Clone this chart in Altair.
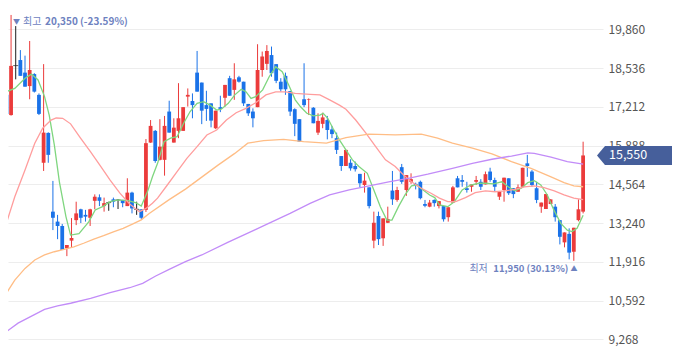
import altair as alt
import pandas as pd
import numpy as np

# ---------------- data ----------------
opens = [17620, 16930, 18620, 18810, 18380, 17920, 18330, 17620, 15300, 16320,
         13630, 13290, 13140, 12380, 12640, 13340, 13710, 13520, 13420, 14000,
         14120, 13820, 13940, 14050, 14030, 14030, 13820, 14280, 13710, 13710,
         13690, 15990, 16390, 15400, 15400, 17050, 15990, 16390, 16390, 17560,
         17410, 18380, 18040, 17270, 17330, 16480, 17200, 17520, 18190, 17790,
         18220, 18070, 17310, 17050, 17200, 18470, 18680, 18980, 18670, 18070,
         18270, 17750, 17130, 16790, 17470, 17450, 17180, 16330, 16630, 16760,
         16440, 16140, 15530, 15190, 15300, 15190, 14920, 14540, 14460, 12640,
         13480, 12720, 13250, 14350, 14030, 15150, 14370, 14650, 14580, 14650,
         13890, 13800, 14030, 13820, 13820, 13440, 13940, 14770, 14710, 14430,
         14480, 14650, 14650, 14560, 15000, 14710, 14140, 14370, 14770, 14430,
         14310, 14480, 15280, 15000, 14430, 13800, 13720, 13890, 13800, 13340,
         12580, 12870, 12260, 13340, 13630]
highs = [17650, 20350, 19970, 19150, 18960, 19460, 18360, 17670, 18670, 16340,
         14680, 13520, 13210, 12490, 13410, 13970, 13730, 13690, 13730, 14220,
         14220, 14110, 13970, 14110, 14060, 14030, 14770, 14310, 13970, 13710,
         16110, 16760, 16420, 16790, 16900, 17420, 16820, 18020, 17200, 17840,
         17670, 19120, 18040, 17760, 17330, 17080, 17590, 17960, 18270, 18700,
         18270, 18070, 17310, 17160, 19350, 19100, 19320, 19270, 18670, 18190,
         18380, 17750, 17160, 16790, 18700, 17500, 17200, 16990, 17010, 16900,
         16560, 16330, 15530, 15740, 15420, 15340, 14920, 14960, 14460, 13630,
         13630, 13400, 13800, 15020, 14480, 15260, 14880, 14940, 14620, 14690,
         14030, 14030, 14050, 13990, 13820, 13780, 14510, 14850, 14880, 14650,
         14560, 14850, 14740, 15000, 15130, 14790, 14310, 14790, 14770, 14430,
         14560, 15130, 15570, 15050, 14650, 13940, 14230, 14050, 13890, 13340,
         12920, 13060, 13080, 14050, 16020]
lows = [16670, 16910, 18150, 18270, 17900, 17470, 17700, 16930, 15020, 15300,
        13000, 12690, 12320, 12110, 12390, 13170, 13240, 13290, 13140, 13710,
        13820, 13630, 13660, 13780, 13720, 13780, 13820, 13570, 13520, 13370,
        13620, 15980, 15300, 15380, 14860, 16330, 15990, 16140, 16390, 17220,
        16820, 17730, 16620, 16730, 16510, 16450, 17030, 17220, 17590, 17450,
        18040, 17240, 16900, 16510, 17200, 18240, 18470, 18240, 18020, 17730,
        17620, 16900, 16210, 16020, 17200, 16930, 16650, 16250, 16480, 16100,
        16140, 15600, 15020, 15190, 15030, 15000, 14460, 14280, 13740, 12380,
        12490, 12460, 13240, 13860, 13970, 14580, 14170, 14580, 14390, 14050,
        13780, 13780, 13800, 13740, 13290, 13290, 13940, 14460, 14480, 14280,
        14310, 14540, 14370, 14560, 14650, 14310, 14030, 13970, 14200, 14090,
        14310, 14480, 14820, 14480, 13920, 13590, 13720, 13890, 13290, 12510,
        12410, 12000, 11950, 13300, 13570]
closes = [16970, 18610, 18620, 18270, 17900, 18470, 17730, 16970, 16330, 15570,
          13420, 13140, 12320, 12490, 12730, 13570, 13420, 13460, 13710, 14140,
          14000, 13920, 13940, 13970, 14030, 13920, 14280, 13740, 13710, 13420,
          15970, 16560, 15360, 15850, 16560, 16330, 16500, 16820, 17200, 17620,
          17270, 17730, 17080, 17140, 16740, 17080, 17140, 17960, 17590, 18150,
          18070, 17330, 16990, 16820, 18470, 18930, 19120, 18360, 18100, 17810,
          17810, 17050, 16630, 16020, 17270, 17470, 16650, 16730, 16850, 16420,
          16280, 15740, 15190, 15740, 15110, 15080, 14600, 14690, 13820, 13250,
          12690, 13400, 13380, 14050, 14370, 14650, 14880, 14740, 14510, 14090,
          13830, 13940, 13920, 13990, 13370, 13780, 14460, 14460, 14650, 14370,
          14560, 14710, 14480, 14910, 14710, 14480, 14310, 14790, 14260, 14230,
          14460, 15130, 15190, 14540, 14030, 13940, 14230, 14050, 13440, 12770,
          12920, 12230, 13080, 13710, 15550]

ma5_idx = [0, 1.8, 4.0, 5.4, 6.8, 8.2, 9.2, 10.3, 11.4, 12.8, 13.8, 15.6, 17.7, 19.1, 20.9,
           22.3, 24.0, 26.2, 27.9, 29.0, 30.4, 31.4, 32.5, 33.9, 35.3, 36.7, 38.1, 39.5, 41.0,
           42.4, 43.8, 45.2, 46.2, 47.7, 49.1, 50.5, 51.5, 52.6, 53.6, 55.1, 56.5, 57.9, 59.3,
           60.7, 62.1, 63.2, 64.6, 66.0, 67.4, 68.1, 69.1, 70.2, 71.6, 73.0, 74.4, 75.8, 77.6,
           79.0, 80.4, 81.8, 82.9, 84.3, 85.7, 87.1, 88.2, 89.6, 91.0, 92.1, 93.1, 94.9, 96.3,
           98.0, 99.8, 101.6, 103.0, 104.8, 106.5, 107.9, 109.3, 110.7, 112.1, 113.5, 114.9,
           116.3, 117.7, 119.2, 120.6, 121.6, 122.7, 124]
ma5_val = [17730, 17840, 18190, 18330, 18130, 17560, 16930, 15910, 14640, 13460, 12830, 12880,
           13280, 13690, 13820, 13970, 14030, 14010, 13930, 13820, 14340, 14820, 15280, 16020,
           16140, 16190, 16650, 17050, 17330, 17390, 17270, 17100, 17130, 17330, 17620, 17810,
           17730, 17500, 17560, 17790, 18240, 18580, 18410, 17960, 17450, 17220, 16990, 16900,
           16930, 16990, 16820, 16480, 16080, 15740, 15400, 15170, 14940, 14370, 13800, 13340,
           13340, 13800, 14200, 14510, 14540, 14370, 14200, 14110, 13860, 13800, 13970, 14370,
           14540, 14600, 14600, 14580, 14650, 14480, 14340, 14430, 14620, 14690, 14540, 14200,
           13690, 13230, 13000, 12950, 13060, 13510]

ma20_idx = [0, 1.8, 4.0, 6.1, 7.8, 9.6, 10.7, 12.1, 13.8, 15.9, 18.1, 20.2, 22.3, 24.4, 26.5,
            28.6, 30.0, 31.4, 32.5, 34.6, 36.7, 38.8, 41.0, 43.1, 45.2, 47.3, 49.4, 51.5, 53.6,
            55.8, 57.9, 60.0, 62.1, 65.3, 67.4, 69.5, 71.6, 73.0, 75.1, 77.3, 79.4, 81.5, 83.6,
            85.4, 87.1, 89.2, 91.3, 93.1, 94.9, 96.6, 98.7, 100.8, 103.0, 105.1, 107.2, 109.3,
            111.4, 113.5, 115.6, 117.8, 119.9, 122.0, 124]
ma20_val = [13240, 14140, 15050, 15970, 16480, 16760, 16830, 16820, 16630, 16150, 15670, 15190,
            14710, 14260, 13890, 13630, 13740, 13920, 14090, 14540, 15000, 15450, 15850, 16250,
            16420, 16760, 17010, 17160, 17350, 17620, 17720, 17720, 17670, 17640, 17620, 17450,
            17270, 17130, 16760, 16310, 15850, 15400, 15170, 14880, 14650, 14430, 14260, 14090,
            13970, 13970, 14110, 14280, 14340, 14310, 14340, 14390, 14480, 14510, 14450, 14340,
            14200, 14090, 14040]

ma60_idx = [0, 1.8, 4.0, 6.1, 8.2, 10.3, 12.4, 14.5, 16.6, 18.8, 20.9, 23.0, 25.1, 27.2, 29.0,
            30.7, 35.0, 38.5, 42.0, 45.5, 49.1, 51.9, 55.3, 59.6, 63.9, 68.8, 73.0, 77.9, 83.6,
            89.2, 92.7, 95.9, 100.2, 104.4, 108.6, 112.8, 117.1, 119.9, 122.0, 124]
ma60_val = [10840, 11290, 11690, 11980, 12150, 12260, 12340, 12430, 12550, 12690, 12810, 12940,
            13060, 13210, 13350, 13570, 14040, 14400, 14810, 15220, 15620, 15970, 16060, 16100,
            16020, 15970, 16160, 16280, 16250, 16280, 16140, 15970, 15800, 15600, 15340, 15110,
            14820, 14620, 14510, 14480]

ma120_idx = [0, 2.5, 5.4, 8.2, 11.0, 13.8, 18.1, 22.3, 26.5, 29.3, 32.1, 35.0, 38.5, 42.0, 47.7,
             53.3, 57.2, 61.0, 65.3, 69.5, 73.7, 78.0, 82.2, 86.4, 90.6, 95.9, 100.2, 104.4,
             108.6, 112.1, 113.5, 117.1, 120.6, 124]
ma120_val = [9530, 9820, 10060, 10290, 10410, 10500, 10670, 10860, 11030, 11180, 11430, 11660,
             11920, 12150, 12590, 13000, 13290, 13570, 13910, 14200, 14370, 14510, 14650, 14770,
             14910, 15110, 15280, 15420, 15530, 15640, 15620, 15490, 15340, 15250]

tick_values = [9268, 10592, 11916, 13240, 14564, 15888, 17212, 18536, 19860]
last_close = closes[-1]

# ---------------- styling ----------------
RED = "#eb3b3b"
BLUE = "#1a72e8"
BLACK = "#1e1e1e"
ANNO = "#6e82bf"
TAG = "#465f9b"
FONT = "Noto Sans CJK KR"
MA_NAMES = ["MA5", "MA20", "MA60", "MA120"]
MA_COLORS = ["#7fd67f", "#ff9d9d", "#ffbd85", "#c28cf8"]

W, H = 595, 341
xs = alt.Scale(domain=[1.4165, 127.2], nice=False, zero=False)
ys = alt.Scale(domain=[8937, 20588], nice=False, zero=False)
Y_AXIS = alt.Axis(orient="right", values=tick_values, format=",d", grid=True,
                  gridColor="#ededed", gridWidth=1, domain=False, ticks=False,
                  labelPadding=5, labelFont=FONT, labelFontSize=12, title=None,
                  labelColor="#555555", labelAlign="left", labelBaseline="middle")


def Yq(field):
    return alt.Y(field, type="quantitative", scale=ys, axis=Y_AXIS, title=None)


n = len(opens)
candles = pd.DataFrame({"idx": list(range(n)), "open": opens, "high": highs,
                        "low": lows, "close": closes})
candles["dir"] = np.where(candles["close"] > candles["open"], "up",
                          np.where(candles["close"] < candles["open"], "down", "flat"))

ma = pd.concat([
    pd.DataFrame({"idx": i, "value": v, "ma": name})
    for name, i, v in [("MA5", ma5_idx, ma5_val), ("MA20", ma20_idx, ma20_val),
                       ("MA60", ma60_idx, ma60_val), ("MA120", ma120_idx, ma120_val)]
])

dir_color = alt.Color("dir:N", scale=alt.Scale(domain=["up", "down", "flat"],
                                               range=[RED, BLUE, BLACK]), legend=None)
X = alt.X("idx:Q", scale=xs, axis=None)

base = alt.Chart(candles)

wicks = base.mark_rule(strokeWidth=1, clip=True).encode(
    x=X, y=Yq("low"), y2="high:Q", color=dir_color)

bodies = base.mark_bar(size=3.8, clip=True).encode(
    x=X, y=Yq("open"), y2="close:Q", color=dir_color)

doji = base.transform_filter(alt.datum.dir == "flat").mark_tick(
    orient="horizontal", size=5, thickness=1, color=BLACK, clip=True).encode(
    x=X, y=Yq("close"))

lines = alt.Chart(ma).mark_line(strokeWidth=1.3, clip=True).encode(
    x=X, y=Yq("value"),
    color=alt.Color("ma:N", scale=alt.Scale(domain=MA_NAMES, range=MA_COLORS), legend=None),
)

# ---- high / low annotations ----
hi_i = int(np.argmax(highs))
lo_i = int(np.argmin(lows))
hi = highs[hi_i]
lo = lows[lo_i]
hi_txt = f"{hi:,} ({(last_close / hi - 1) * 100:.2f}%)"
lo_txt = f"{lo:,} ({(last_close / lo - 1) * 100:.2f}%)"

hi_df = pd.DataFrame({"idx": [hi_i], "price": [hi]})
lo_df = pd.DataFrame({"idx": [lo_i], "price": [lo]})


def anno(df, text, dx, dy, align, size, weight="normal"):
    return alt.Chart(df).mark_text(align=align, baseline="middle", dx=dx, dy=dy,
                                   font=FONT, fontSize=size, fontWeight=weight,
                                   color=ANNO).encode(
        x=X, y=Yq("price"), text=alt.value(text))


hi_layers = [anno(hi_df, "▼", 2, 7, "left", 7),
             anno(hi_df, "최고", 12, 7, "left", 10),
             anno(hi_df, hi_txt, 34, 7, "left", 10, "bold")]
lo_layers = [anno(lo_df, "최저", -86, 8.2, "right", 10),
             anno(lo_df, lo_txt, -5.4, 8.2, "right", 9.5, "bold"),
             anno(lo_df, "▲", 3.6, 8.2, "right", 7)]

# ---- last price tag ----
TAG_PATH = ("M-1,0L-0.81,-0.226L0.95,-0.226Q1,-0.226 1,-0.18L1,0.18"
            "Q1,0.226 0.95,0.226L-0.81,0.226Z")
tag_df = pd.DataFrame({"price": [last_close], "label": [f"{last_close:,}"]})
tag = alt.Chart(tag_df).mark_point(shape=TAG_PATH, size=7056, filled=True, opacity=1,
                                   color=TAG, strokeWidth=0).encode(
    x=alt.value(631), y=Yq("price"))
tag_text = alt.Chart(tag_df).mark_text(align="left", baseline="middle", font=FONT,
                                       fontSize=12.5, color="white").encode(
    x=alt.value(601), y=Yq("price"), text="label:N")

chart = alt.layer(wicks, bodies, doji, lines, *hi_layers, *lo_layers, tag, tag_text).resolve_scale(
    color="independent"
).properties(
    width=W, height=H,
    padding={"left": 0, "top": 0, "right": 69, "bottom": 0},
    autosize=alt.AutoSizeParams(type="none"),
    background="white",
).configure_view(stroke=None)

chart.save("out.html", embed_options={"renderer": "svg", "actions": False})
